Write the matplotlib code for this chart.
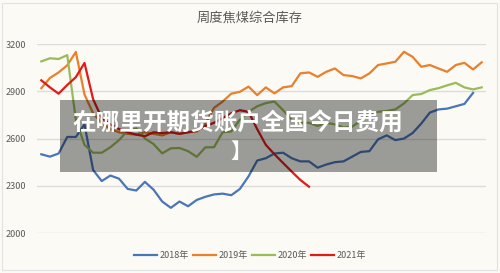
import matplotlib
matplotlib.use("Agg")
import matplotlib.pyplot as plt
from matplotlib.patches import Rectangle

plt.rcParams['font.family'] = ['Noto Sans CJK SC', 'DejaVu Sans']

# weekly coking coal inventory
y2018 = [2500, 2485, 2505, 2610, 2610, 2690, 2400, 2330, 2365, 2345,
         2280, 2270, 2325, 2275, 2200, 2160, 2200, 2170, 2210, 2230,
         2245, 2250, 2240, 2280, 2360, 2460, 2475, 2505, 2510, 2475,
         2455, 2455, 2415, 2435, 2450, 2455, 2485, 2515, 2520, 2595,
         2620, 2590, 2600, 2635, 2695, 2765, 2785, 2790, 2805, 2820,
         2890]
y2019 = [2920, 2985, 3020, 3065, 3150, 2880, 2760, 2700, 2660, 2640,
         2630, 2625, 2640, 2630, 2620, 2640, 2630, 2640, 2645, 2695,
         2795, 2835, 2885, 2897, 2930, 2876, 2925, 2887, 2925, 2933,
         3014, 3020, 2992, 3024, 3045, 3003, 2997, 2982, 3014, 3067,
         3077, 3088, 3151, 3119, 3056, 3067, 3045, 3024, 3067, 3081,
         3039, 3084]
y2020 = [3090, 3110, 3105, 3130, 2720, 2560, 2510, 2510, 2545, 2590,
         2650, 2665, 2600, 2565, 2506, 2538, 2540, 2520, 2484, 2544,
         2545, 2640, 2645, 2720, 2770, 2805, 2825, 2835, 2780, 2720,
         2700, 2700, 2680, 2700, 2690, 2670, 2675, 2715, 2760, 2770,
         2775, 2785, 2823, 2876, 2883, 2908, 2920, 2938, 2954, 2925,
         2912, 2925]
y2021 = [2970, 2925, 2885, 2940, 2990, 3080, 2850, 2730, 2690, 2660,
         2640, 2625, 2615, 2640, 2635, 2640, 2630, 2640, 2650, 2680,
         2700, 2730, 2760, 2780, 2770, 2660, 2560, 2500, 2445, 2390,
         2337, 2294]

series = [("2018年", y2018, "#4a76b8"),
          ("2019年", y2019, "#e8802c"),
          ("2020年", y2020, "#9bbb59"),
          ("2021年", y2021, "#e01b1b")]

yticks = [2000, 2300, 2600, 2900, 3200]

fig = plt.figure(figsize=(5, 2.73), dpi=100)
fig.patch.set_facecolor("#fbfaf5")
ax = fig.add_axes([0.074, 0.1465, 0.898, 0.692])
ax.set_facecolor("#fbfaf5")

for name, vals, col in series:
    ax.plot(range(len(vals)), vals, color=col, lw=1.6, label=name,
            solid_joinstyle="round")

ax.set_xlim(-0.5, 51.5)
ax.set_ylim(2000, 3200)
ax.set_yticks(yticks)
ax.set_yticklabels([str(t) for t in yticks], fontsize=6.5, color="#595959")
ax.set_xticks([])
ax.tick_params(axis="y", length=0, pad=8)
ax.grid(axis="y", color="#dcdcdc", lw=1)
ax.set_axisbelow(True)
for s in ax.spines.values():
    s.set_visible(False)

fig.text(0.5, 0.935, "周度焦煤综合库存", ha="center", va="center",
         fontsize=9.5, color="#595959")

leg = fig.legend(loc="center", bbox_to_anchor=(0.5, 0.065), ncol=4,
                 frameon=False, fontsize=6.5, handlelength=2.6,
                 handletextpad=0.3, columnspacing=0.4)
for t in leg.get_texts():
    t.set_color("#595959")

# outer card border
fig.add_artist(Rectangle((0.004, 0.01), 0.99, 0.98, transform=fig.transFigure,
                         fill=False, edgecolor="#e2e2e2", lw=0.8))

# dark overlay box with caption
fig.add_artist(Rectangle((60 / 500, 1 - 172 / 273), 377 / 500, 72 / 273,
                         transform=fig.transFigure, facecolor="#000000",
                         alpha=0.38, edgecolor="none", zorder=10))
fig.text(237.5 / 500, 1 - 124 / 273, "在哪里开期货账户全国今日费用", ha="center",
         va="center", fontsize=17, color="white", weight="bold", zorder=11)
fig.text(241 / 500, 1 - 151 / 273, "】", ha="center", va="center",
         fontsize=15, color="white", weight="bold", zorder=11)

fig.savefig("out.png", dpi=100, facecolor=fig.get_facecolor())
